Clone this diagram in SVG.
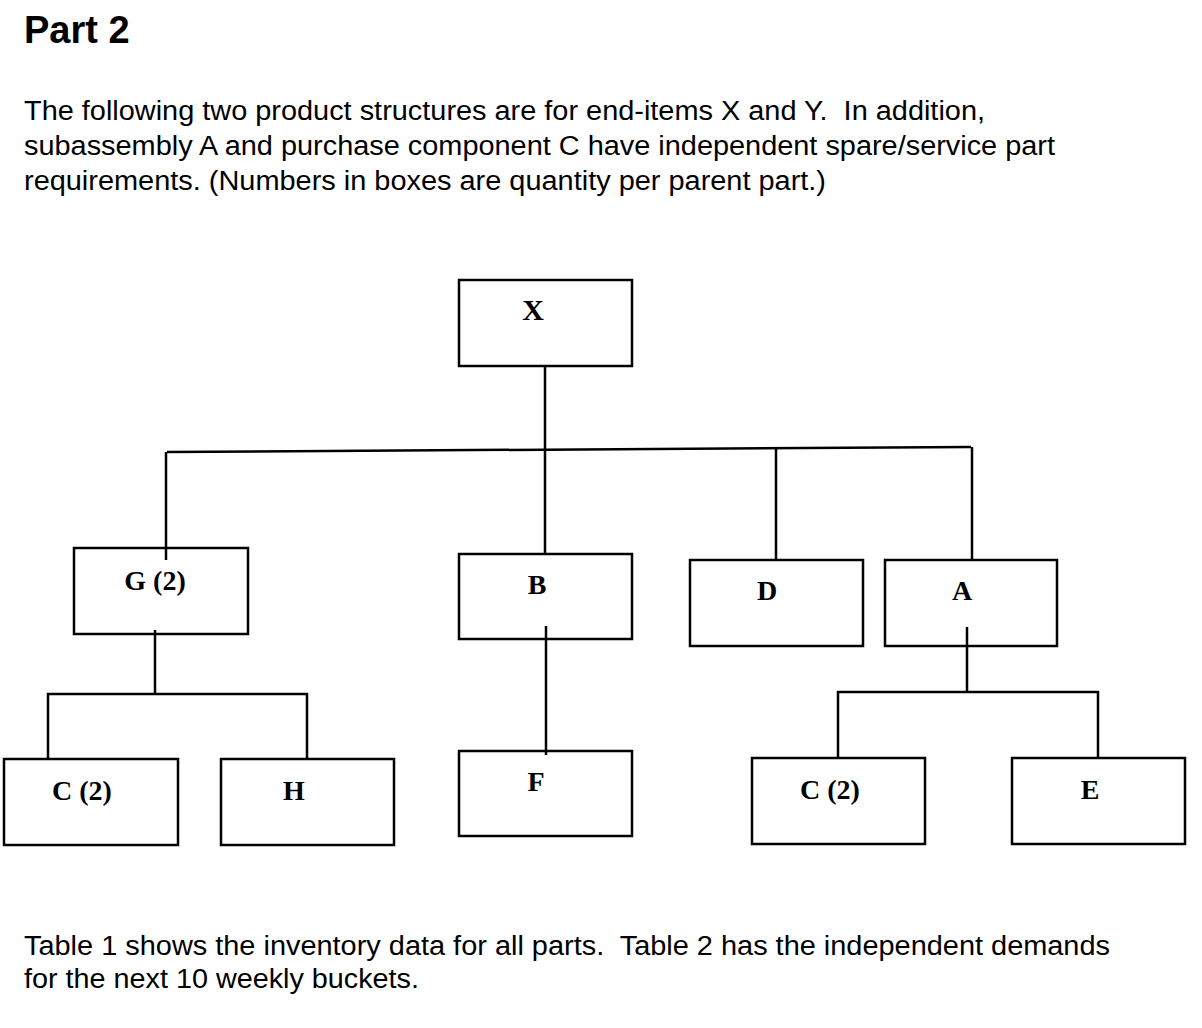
<svg xmlns="http://www.w3.org/2000/svg" width="1202" height="1028" viewBox="0 0 1202 1028">
<style>
.box{fill:#fff;stroke:#000;stroke-width:2.5}
.lbl{font-family:"Liberation Serif","Times New Roman",serif;font-weight:bold;font-size:28px;text-anchor:middle;fill:#000}
.body{font-family:"Liberation Sans",Arial,sans-serif;font-size:27px;fill:#000;white-space:pre}
.con{fill:none;stroke:#000;stroke-width:2.5}
</style>
<rect width="1202" height="1028" fill="#fff"/>
<text x="24" y="43" style="font-family:'Liberation Sans',Arial,sans-serif;font-weight:bold;font-size:38px">Part 2</text>
<text class="body" x="24" y="120" textLength="961" lengthAdjust="spacingAndGlyphs" xml:space="preserve">The following two product structures are for end-items X and Y.  In addition,</text>
<text class="body" x="24" y="155" textLength="1031" lengthAdjust="spacingAndGlyphs">subassembly A and purchase component C have independent spare/service part</text>
<text class="body" x="24" y="190" textLength="802" lengthAdjust="spacingAndGlyphs">requirements. (Numbers in boxes are quantity per parent part.)</text>
<text class="body" x="24" y="955" textLength="1086" lengthAdjust="spacingAndGlyphs" xml:space="preserve">Table 1 shows the inventory data for all parts.  Table 2 has the independent demands</text>
<text class="body" x="24" y="988" textLength="395" lengthAdjust="spacingAndGlyphs">for the next 10 weekly buckets.</text>
<g id="connectors">
<line class="con" x1="545" y1="366" x2="545" y2="555"/>
<line class="con" x1="167" y1="452" x2="971" y2="447"/>
<line class="con" x1="166" y1="452" x2="166" y2="560"/>
<line class="con" x1="776" y1="449" x2="776" y2="560"/>
<line class="con" x1="972" y1="447" x2="972" y2="560"/>
<polyline class="con" points="48,759 48,694 307,694 307,759"/>
<line class="con" x1="155" y1="630" x2="155" y2="694"/>
<line class="con" x1="546" y1="626" x2="546" y2="755"/>
<polyline class="con" points="838,758 838,692 1098,692 1098,758"/>
<line class="con" x1="967" y1="627" x2="967" y2="692"/>
</g>
<g id="node-X"><rect class="box" x="459" y="280" width="173" height="86"/><text class="lbl" x="533" y="320" style="font-size:30px">X</text></g>
<g id="node-G"><rect class="box" x="74" y="548" width="174" height="86"/><line class="con" x1="166" y1="548" x2="166" y2="560"/><line class="con" x1="155" y1="630" x2="155" y2="634"/><text class="lbl" x="155" y="590">G (2)</text></g>
<g id="node-B"><rect class="box" x="459" y="554" width="173" height="85"/><line class="con" x1="546" y1="626" x2="546" y2="639"/><text class="lbl" x="537" y="594">B</text></g>
<g id="node-D"><rect class="box" x="690" y="560" width="173" height="86"/><text class="lbl" x="767" y="600">D</text></g>
<g id="node-A"><rect class="box" x="885" y="560" width="172" height="86"/><line class="con" x1="967" y1="627" x2="967" y2="646"/><text class="lbl" x="962" y="600">A</text></g>
<g id="node-C1"><rect class="box" x="4" y="759" width="174" height="86"/><text class="lbl" x="82" y="800">C (2)</text></g>
<g id="node-H"><rect class="box" x="221" y="759" width="173" height="86"/><text class="lbl" x="294" y="800">H</text></g>
<g id="node-F"><rect class="box" x="459" y="751" width="173" height="85"/><line class="con" x1="546" y1="751" x2="546" y2="755"/><text class="lbl" x="536" y="791">F</text></g>
<g id="node-C2"><rect class="box" x="752" y="758" width="173" height="86"/><text class="lbl" x="830" y="799">C (2)</text></g>
<g id="node-E"><rect class="box" x="1012" y="758" width="173" height="86"/><text class="lbl" x="1090" y="799">E</text></g>
</svg>
